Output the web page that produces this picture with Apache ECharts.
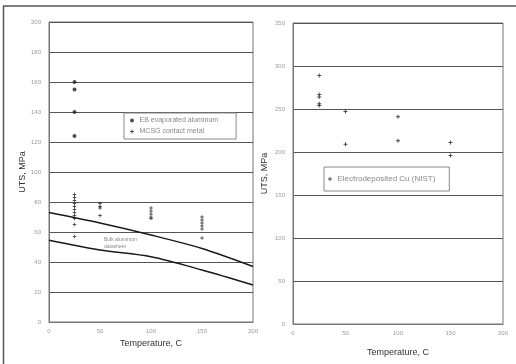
<!DOCTYPE html>
<html>
<head>
<meta charset="utf-8">
<script src="https://cdn.jsdelivr.net/npm/echarts@6/dist/echarts.min.js"></script>
<style>
  html, body { margin: 0; padding: 0; background: #fff; }
  #chart { width: 516px; height: 364px; }
</style>
</head>
<body>
<div id="chart"></div>
<script>
// left panel: aluminum films
var ebAluminum = [[25, 160], [25, 155], [25, 140], [25, 124]]
var mcsgContact = [
  [25, 85], [25, 83], [25, 81], [25, 79], [25, 77], [25, 75], [25, 73], [25, 71], [25, 69], [25, 65], [25, 57],
  [50, 79], [50, 77], [50, 76], [50, 71],
  [100, 76], [100, 74], [100, 72], [100, 70], [100, 69],
  [150, 70], [150, 68], [150, 66], [150, 64], [150, 62], [150, 56]
]
var bulkTemps = [0, 50, 100, 150, 200]
var bulkUpper = [73, 66, 58, 49, 37]
var bulkLower = [54.5, 48, 43.5, 34.7, 24.7]

// right panel: electrodeposited copper
var nistCopper = [
  [25, 289], [25, 267], [25, 264], [25, 256], [25, 254],
  [50, 247], [50, 209],
  [100, 241], [100, 213],
  [150, 211], [150, 196]
]

var plusSymbol = 'path://M3,0H5V3H8V5H5V8H3V5H0V3H3Z'
var tickLabel = { fontSize: 6, color: '#9a9a9a', fontFamily: 'Arial, Liberation Sans' }
var nameStyle = { fontSize: 9, color: '#333', fontFamily: 'Arial, Liberation Sans' }

function zip(xs, ys) {
  var out = []
  for (var i = 0; i < xs.length; i++) {
    out.push([xs[i], ys[i]])
  }
  return out
}

var chart = echarts.init(document.getElementById('chart'))
chart.setOption({
  animation: false,
  backgroundColor: '#fff',
  graphic: [
    { type: 'line', shape: { x1: 3, y1: 6, x2: 516, y2: 6 }, style: { stroke: '#555', lineWidth: 1.5 } },
    { type: 'line', shape: { x1: 3.5, y1: 6, x2: 3.5, y2: 364 }, style: { stroke: '#555', lineWidth: 1.5 } },
    {
      type: 'text', left: 104, top: 236,
      style: { text: 'Bulk aluminum\ndatasheet', fontSize: 5, fill: '#888', lineHeight: 7 }
    }
  ],
  grid: [
    { left: 49, top: 22, width: 204, height: 300, show: true, borderColor: '#777', borderWidth: 1 },
    { left: 293, top: 23, width: 210, height: 301, show: true, borderColor: '#777', borderWidth: 1 }
  ],
  legend: [
    {
      data: ['EB evaporated aluminum', 'MCSG contact metal'],
      orient: 'vertical', left: 124, top: 113,
      itemWidth: 5, itemHeight: 4, itemGap: 4,
      padding: [4, 18, 4, 6],
      borderColor: '#888', borderWidth: 1, backgroundColor: '#fff',
      textStyle: { fontSize: 7, color: '#888' }
    },
    {
      data: ['Electrodeposited Cu (NIST)'],
      left: 324, top: 167,
      itemWidth: 5, itemHeight: 4,
      padding: [8, 14, 8, 4],
      borderColor: '#888', borderWidth: 1, backgroundColor: '#fff',
      textStyle: { fontSize: 8, color: '#888' }
    }
  ],
  xAxis: [
    {
      gridIndex: 0, type: 'value', min: 0, max: 200, interval: 50,
      name: 'Temperature, C', nameLocation: 'middle', nameGap: 17, nameTextStyle: nameStyle,
      axisLine: { lineStyle: { color: '#777' } },
      axisTick: { show: false },
      axisLabel: Object.assign({ margin: 6 }, tickLabel),
      splitLine: { show: false }
    },
    {
      gridIndex: 1, type: 'value', min: 0, max: 200, interval: 50,
      name: 'Temperature, C', nameLocation: 'middle', nameGap: 24, nameTextStyle: nameStyle,
      axisLine: { lineStyle: { color: '#777' } },
      axisTick: { show: false },
      axisLabel: Object.assign({ margin: 6 }, tickLabel),
      splitLine: { show: false }
    }
  ],
  yAxis: [
    {
      gridIndex: 0, type: 'value', min: 0, max: 200, interval: 20,
      name: 'UTS, MPa', nameLocation: 'middle', nameGap: 22, nameTextStyle: nameStyle,
      axisLine: { lineStyle: { color: '#777' } },
      axisTick: { show: false },
      axisLabel: Object.assign({ margin: 8 }, tickLabel),
      splitLine: { lineStyle: { color: '#555', width: 1 } }
    },
    {
      gridIndex: 1, type: 'value', min: 0, max: 350, interval: 50,
      name: 'UTS, MPa', nameLocation: 'middle', nameGap: 24, nameTextStyle: nameStyle,
      axisLine: { lineStyle: { color: '#777' } },
      axisTick: { show: false },
      axisLabel: Object.assign({ margin: 8 }, tickLabel),
      splitLine: { lineStyle: { color: '#555', width: 1 } }
    }
  ],
  series: [
    {
      name: 'bulk upper', type: 'line', xAxisIndex: 0, yAxisIndex: 0,
      data: zip(bulkTemps, bulkUpper), smooth: 0.3, showSymbol: false,
      lineStyle: { color: '#1a1a1a', width: 1.5 }
    },
    {
      name: 'bulk lower', type: 'line', xAxisIndex: 0, yAxisIndex: 0,
      data: zip(bulkTemps, bulkLower), smooth: 0.3, showSymbol: false,
      lineStyle: { color: '#1a1a1a', width: 1.5 }
    },
    {
      name: 'EB evaporated aluminum', type: 'scatter', xAxisIndex: 0, yAxisIndex: 0,
      data: ebAluminum, symbol: 'circle', symbolSize: 4,
      itemStyle: { color: '#222' }
    },
    {
      name: 'MCSG contact metal', type: 'scatter', xAxisIndex: 0, yAxisIndex: 0,
      data: mcsgContact, symbol: plusSymbol, symbolSize: 3.5,
      itemStyle: { color: '#222' }
    },
    {
      name: 'Electrodeposited Cu (NIST)', type: 'scatter', xAxisIndex: 1, yAxisIndex: 1,
      data: nistCopper, symbol: plusSymbol, symbolSize: 4,
      itemStyle: { color: '#222' }
    }
  ]
})
</script>
</body>
</html>
